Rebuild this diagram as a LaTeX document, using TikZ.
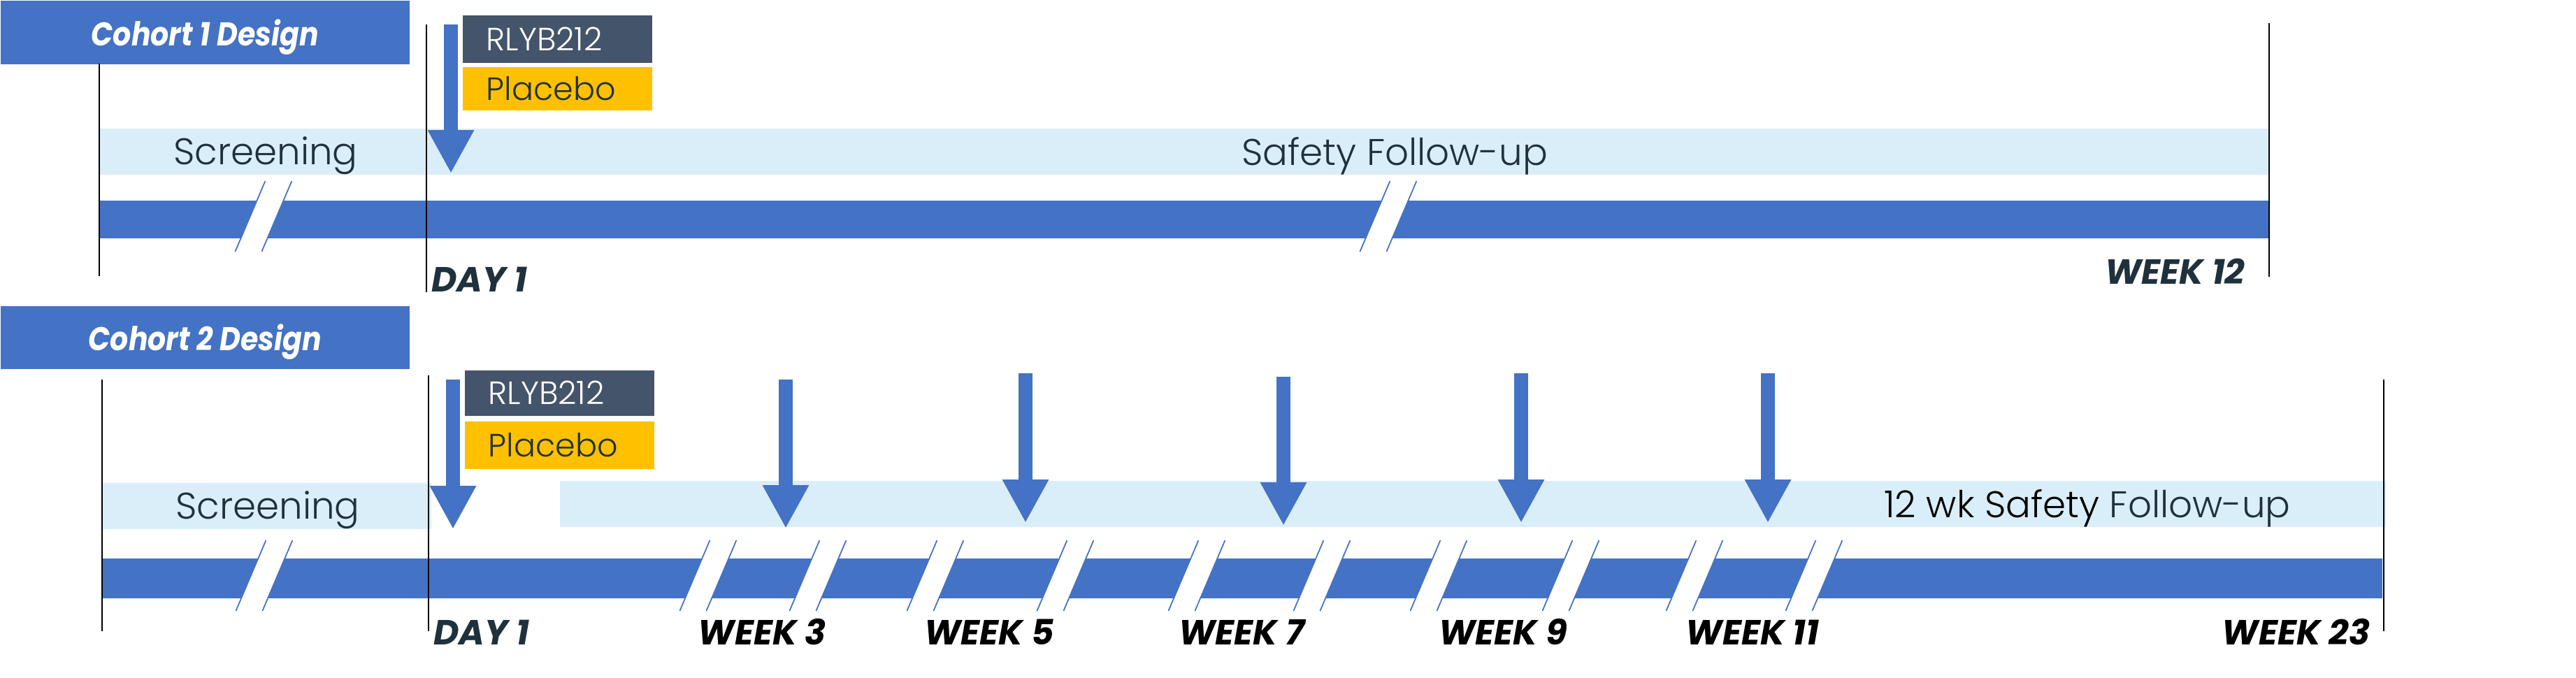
\documentclass[tikz,border=0pt]{standalone}
\usepackage{fontspec}
\setmainfont{Poppins}[UprightFont=* Light, BoldFont=* Bold,
                      ItalicFont=* Light Italic, BoldItalicFont=* Bold Italic]
\usetikzlibrary{arrows.meta}
\definecolor{trackblue}{HTML}{4472C4}
\definecolor{phaseblue}{HTML}{D9EEF8}
\definecolor{armslate}{HTML}{44546A}
\definecolor{armgold}{HTML}{FFC000}
\definecolor{inkslate}{HTML}{1F313C}
\tikzset{
    banner/.style={fill=trackblue, text=white, anchor=north west, inner sep=0pt,
                   minimum width=5.85cm, minimum height=0.91cm, text depth=0pt,
                   font=\fontsize{13.4}{16}\selectfont\bfseries\itshape\addfontfeature{FakeStretch=0.87}},
    phase/.style={fill=phaseblue},
    track/.style={fill=trackblue},
    limit/.style={line width=0.6pt},
    dose/.style={trackblue, line width=0.2cm, -{Triangle[length=0.62cm, width=0.62cm]}},
    cut/.style={trackblue, line width=0.5pt},
    arm/.style={anchor=north west, inner ysep=0pt, inner xsep=0.34cm,
                text width=2.03cm, align=left, minimum height=0.66cm,
                font=\fontsize{13.1}{16}\selectfont},
    drug/.style={arm, fill=armslate, text=white},
    placebo/.style={arm, fill=armgold, text=inkslate},
    phaselabel/.style={font=\fontsize{15.1}{18}\selectfont, text=inkslate,
                       inner sep=0pt, anchor=base},
    timepoint/.style={font=\fontsize{14.2}{17}\selectfont\bfseries\itshape, inner sep=0pt},
}
\newcommand{\trackcut}[2]{
    \begin{scope}[shift={(#1,#2)}]
        \fill[white] (0.044,0.55) -- (0.424,0.55) -- (-0.006,-0.46) -- (-0.386,-0.46) -- cycle;
        \draw[cut] (0.044,0.55) -- (-0.386,-0.46);
        \draw[cut] (0.424,0.55) -- (-0.006,-0.46);
    \end{scope}
}
\newcommand{\dosearrow}[4]{
    \coordinate (#1 top) at (#2,#3);
    \coordinate (#1 tip) at (#2,#4);
    \draw[dose] (#1 top) -- (#1 tip);
}

\begin{document}
\begin{tikzpicture}
    \useasboundingbox (0,0) rectangle (36.85,-9.69);

    \node[banner] (cohortA) at (0,0) {Cohort 1 Design};
    \fill[phase] (1.42,-1.84) rectangle (32.46,-2.50);
    \fill[track] (1.42,-2.87) rectangle (32.46,-3.41);
    \trackcut{3.75}{-3.14}
    \trackcut{19.84}{-3.14}
    \draw[limit] (1.42,-0.91) -- (1.42,-3.95);
    \draw[limit] (6.10,-0.35) -- (6.10,-4.18);
    \draw[limit] (32.46,-0.33) -- (32.46,-3.96);
    \dosearrow{doseA}{6.45}{-0.35}{-2.48}
    \node[drug, minimum height=0.68cm] (drugA) at (6.61,-0.21) {RLYB212};
    \node[placebo, minimum height=0.62cm] (placeboA) at (6.61,-0.95) {Placebo};
    \node[phaselabel] (screenA) at (3.80,-2.35) {Screening};
    \node[phaselabel] (followA) at (19.95,-2.36) {Safety Follow-up};
    \node[timepoint, anchor=base west, text=inkslate] (dayA) at (6.17,-4.17) {DAY 1};
    \node[timepoint, anchor=base east, text=inkslate] (weekA) at (32.12,-4.06) {WEEK 12};

    \node[banner, minimum height=0.90cm] (cohortB) at (0,-4.37) {Cohort 2 Design};
    \fill[phase] (1.46,-6.91) rectangle (6.17,-7.57);
    \fill[phase] (8.01,-6.88) rectangle (34.13,-7.54);
    \fill[track] (1.46,-7.99) rectangle (34.08,-8.56);
    \foreach \x in {3.76,10.11,11.68,13.36,15.22,17.10,18.89,20.56,22.45,24.22,25.93}
        \trackcut{\x}{-8.28};
    \draw[limit] (1.46,-5.43) -- (1.46,-9.03);
    \draw[limit] (6.13,-5.37) -- (6.13,-9.03);
    \draw[limit] (34.10,-5.43) -- (34.10,-9.03);
    \dosearrow{doseB}{6.48}{-5.43}{-7.57}
    \dosearrow{doseW3}{11.24}{-5.43}{-7.56}
    \dosearrow{doseW5}{14.67}{-5.34}{-7.48}
    \dosearrow{doseW7}{18.36}{-5.39}{-7.52}
    \dosearrow{doseW9}{21.76}{-5.34}{-7.48}
    \dosearrow{doseW11}{25.29}{-5.34}{-7.48}
    \node[drug, minimum height=0.65cm] (drugB) at (6.64,-5.29) {RLYB212};
    \node[placebo, minimum height=0.68cm] (placeboB) at (6.64,-6.02) {Placebo};
    \node[phaselabel] (screenB) at (3.83,-7.42) {Screening};
    \node[phaselabel] (followB) at (29.86,-7.40) {{\color{black}12 wk Safety} Follow-up};
    \node[timepoint, anchor=base west, text=inkslate] (dayB) at (6.20,-9.22) {DAY 1};
    \foreach \wk/\x in {3/10.90,5/14.15,7/17.76,9/21.50,11/25.07}
        \node[timepoint, anchor=base] (week\wk) at (\x,-9.22) {WEEK \wk};
    \node[timepoint, anchor=base east] (week23) at (33.91,-9.22) {WEEK 23};

\end{tikzpicture}
\end{document}
